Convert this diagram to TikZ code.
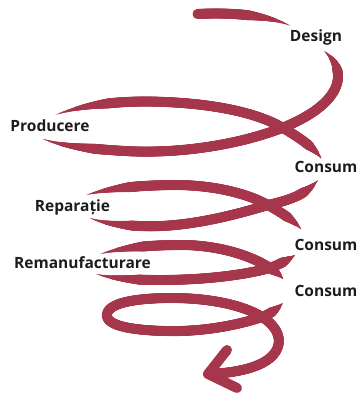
\documentclass[tikz,border=0pt]{standalone}
\usepackage{fontspec}
\setmainfont{Open Sans}
\usetikzlibrary{decorations.markings}
\definecolor{spiralcol}{RGB}{166,54,76}
\definecolor{labelcol}{RGB}{28,28,28}
\def\brw{5}
\tikzset{
  brush/.style 2 args={
    postaction={decorate, decoration={markings,
      mark=between positions 0 and 1 step 0.5pt with {
        \pgfmathsetmacro\brd{\pgfkeysvalueof{/pgf/decoration/mark info/distance from start}}
        \pgfmathsetmacro\brr{\brw*min(1,min((\brd+0.8)/#1,(\pgfdecoratedpathlength-\brd+0.8)/#2))}
        \fill[spiralcol] (0,0) circle[radius=\brr pt];
      }}}
  },
  lbl/.style={anchor=base, inner sep=0pt, text=labelcol, font=\fontsize{15.5}{18}\selectfont\bfseries},
  arm/.style={draw=spiralcol, line width=10pt, line cap=round, line join=round}
}
\begin{document}
\begin{tikzpicture}[x=1pt,y=-1pt]
\useasboundingbox (0,0) rectangle (361,396);
% top stroke into Design
\path[brush={1}{45}] (197,14) .. controls (235,12) and (270,16) .. (291,26);
% Design -> loop 1 lower strand
\path[brush={25}{55}] (324,51) .. controls (350,72) and (342,104) .. (282,128)
   .. controls (235,146) and (175,154) .. (125,151)
   .. controls (90,149) and (62,146) .. (43,139);
% loop 1 upper strand -> Consum
\path[brush={55}{20}] (55,115) .. controls (85,104) and (125,100) .. (165,102)
   .. controls (215,104) and (258,113) .. (283,128)
   .. controls (300,138) and (313,147) .. (321,158);
% Consum -> loop 2 lower strand
\path[brush={20}{45}] (318,180) .. controls (305,195) and (290,200) .. (268,205)
   .. controls (225,218) and (180,228) .. (140,226)
   .. controls (115,225) and (100,222) .. (90,218);
% loop 2 upper strand -> Consum
\path[brush={45}{20}] (86,195) .. controls (110,188) and (140,185) .. (180,185)
   .. controls (220,186) and (250,195) .. (268,205)
   .. controls (282,213) and (293,220) .. (301,229);
% Consum -> loop 3 lower strand
\path[brush={15}{45}] (295,255) .. controls (288,260) and (280,264) .. (270,268)
   .. controls (240,276) and (200,280) .. (160,280)
   .. controls (130,280) and (110,278) .. (96,274);
% loop 3 upper strand -> Consum
\path[brush={45}{15}] (100,254) .. controls (125,247) and (150,245) .. (185,245)
   .. controls (225,246) and (255,258) .. (270,268)
   .. controls (276,272) and (280,275) .. (283,279);
% Consum -> loop 4 -> tail
\path[brush={15}{1}] (283,303) .. controls (277,309) and (270,314) .. (262,317)
   .. controls (235,326) and (200,332) .. (165,331)
   .. controls (125,330) and (105,324) .. (107,314)
   .. controls (109,303) and (135,298) .. (172,298)
   .. controls (212,298) and (245,306) .. (262,317)
   .. controls (280,328) and (285,345) .. (270,358)
   .. controls (258,368) and (235,373) .. (209,374);
% arrow head
\coordinate (tip) at (208,374);
\coordinate (armA) at (227,350);
\coordinate (armB) at (237,388);
\draw[arm] (armA) -- (tip) -- (armB);
% labels
\node[lbl] (design) at (316,42) {Design};
\node[lbl] (prod) at (50,131.5) {Producere};
\node[lbl] (cons1) at (326,172.3) {Consum};
\node[lbl] (rep) at (72.5,211.7) {Reparație};
\node[lbl] (cons2) at (326,250.7) {Consum};
\node[lbl] (reman) at (82.5,268.3) {Remanufacturare};
\node[lbl] (cons3) at (326,296) {Consum};
\end{tikzpicture}
\end{document}
